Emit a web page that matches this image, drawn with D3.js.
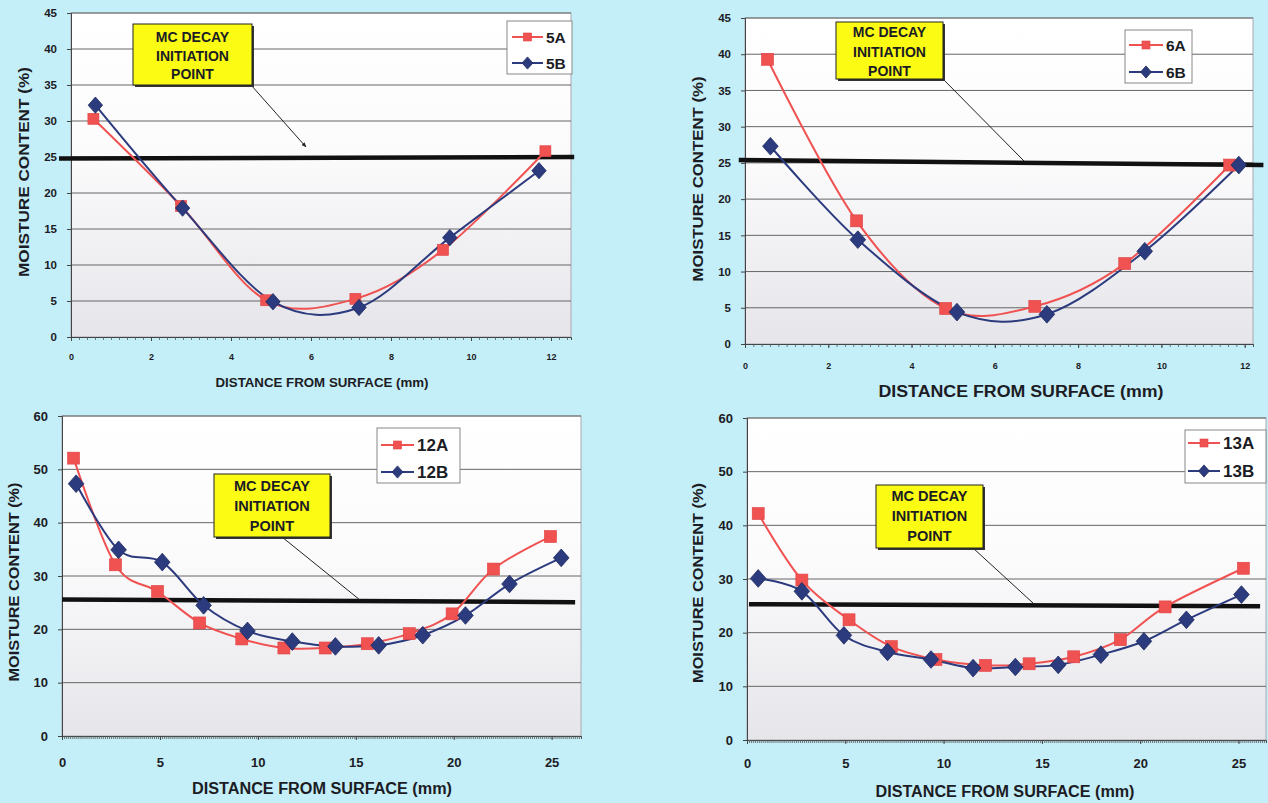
<!DOCTYPE html>
<html>
<head>
<meta charset="utf-8">
<script src="https://cdn.jsdelivr.net/npm/d3@7"></script>
<style>
  html, body { margin: 0; padding: 0; background: #c4eef8; }
  svg { display: block; }
  text { font-family: "Liberation Sans", Arial, sans-serif; font-weight: bold; fill: #1c1c24; }
</style>
</head>
<body>
<svg id="chart" width="1268" height="803"></svg>
<script>
// ---------------- DATA ----------------
const xTicks12 = [0, 2, 4, 6, 8, 10, 12];
const xTicks25 = [0, 5, 10, 15, 20, 25];
const yTicks45 = [0, 5, 10, 15, 20, 25, 30, 35, 40, 45];
const yTicks60 = [0, 10, 20, 30, 40, 50, 60];

const s5A_x = [0.56, 2.75, 4.88, 7.11, 9.30, 11.86];
const s5A_y = [30.3, 18.2, 5.1, 5.3, 12.1, 25.8];
const s5B_x = [0.61, 2.79, 5.05, 7.20, 9.47, 11.70];
const s5B_y = [32.2, 17.9, 4.9, 4.1, 13.8, 23.1];

const s6A_x = [0.54, 2.68, 4.82, 6.96, 9.12, 11.64];
const s6A_y = [39.3, 17.0, 4.9, 5.2, 11.1, 24.7];
const s6B_x = [0.61, 2.71, 5.09, 7.25, 9.60, 11.86];
const s6B_y = [27.3, 14.4, 4.4, 4.1, 12.8, 24.7];

const s12A_x = [0.59, 2.73, 4.88, 7.03, 9.18, 11.33, 13.44, 15.59, 17.73, 19.92, 22.03, 24.94];
const s12A_y = [52.1, 32.1, 27.1, 21.2, 18.2, 16.5, 16.5, 17.3, 19.2, 22.9, 31.3, 37.4];
const s12B_x = [0.72, 2.89, 5.12, 7.23, 9.47, 11.76, 13.96, 16.17, 18.42, 20.60, 22.85, 25.49];
const s12B_y = [47.3, 34.9, 32.6, 24.5, 19.7, 17.7, 16.8, 17.0, 18.9, 22.6, 28.5, 33.4];

const s13A_x = [0.57, 2.79, 5.19, 7.34, 9.61, 12.13, 14.35, 16.62, 18.99, 21.27, 25.25];
const s13A_y = [42.2, 29.8, 22.4, 17.4, 15.0, 13.9, 14.2, 15.5, 18.7, 24.8, 32.0];
const s13B_x = [0.57, 2.79, 4.93, 7.15, 9.36, 11.50, 13.65, 15.83, 18.00, 20.19, 22.35, 25.15];
const s13B_y = [30.1, 27.7, 19.5, 16.4, 15.0, 13.4, 13.6, 14.0, 15.9, 18.4, 22.4, 27.1];

// decay-initiation reference line (distance, moisture) end points
const decay5_x = [-0.3, 12.58];  const decay5_y = [24.8, 25.0];
const decay6_x = [-0.15, 12.45]; const decay6_y = [25.4, 24.7];
const decay12_x = [0.0, 26.2];   const decay12_y = [25.6, 25.1];
const decay13_x = [0.1, 26.1];   const decay13_y = [25.3, 24.9];

const seriesNames5 = ["5A", "5B"];
const seriesNames6 = ["6A", "6B"];
const seriesNames12 = ["12A", "12B"];
const seriesNames13 = ["13A", "13B"];

const yTitle = "MOISTURE CONTENT (%)";
const xTitle = "DISTANCE FROM SURFACE (mm)";
const noteLines = ["MC DECAY", "INITIATION", "POINT"];

// ---------------- STYLE / LAYOUT ----------------
const RED = "#f05252", BLUE = "#2c3b7e";
const zip = (xs, ys) => xs.map((v, i) => [v, ys[i]]);

const panels = [
  { id: "p1", left: 71, right: 571, top: 13, bottom: 337, xMax: 12.5, yMax: 45,
    xTicks: xTicks12, yTicks: yTicks45, minor: 0.2, xTickFont: 9, yTickFont: 11.5, xTickY: 360,
    A: zip(s5A_x, s5A_y), B: zip(s5B_x, s5B_y), names: seriesNames5,
    decay: zip(decay5_x, decay5_y),
    box: [133, 24, 252, 85], boxFont: 14, boxLines: [42, 60.5, 79], leader: [251, 85, 306, 147], arrow: true,
    legend: [507, 21, 572, 74], legLineY: [37, 63], legX: [512, 543], legTextX: 546, legFont: 15.5,
    yTitleX: 24, yTitleY: 172, yTitleLen: 210, yTitleFont: 14.5,
    xTitleX: 322, xTitleY: 387, xTitleLen: 213, xTitleFont: 12.5, mk: 11 },
  { id: "p2", left: 745, right: 1253, top: 18, bottom: 344, xMax: 12.2, yMax: 45,
    xTicks: xTicks12, yTicks: yTicks45, minor: 0.2, xTickFont: 9, yTickFont: 11.5, xTickY: 369,
    A: zip(s6A_x, s6A_y), B: zip(s6B_x, s6B_y), names: seriesNames6,
    decay: zip(decay6_x, decay6_y),
    box: [836, 22, 943, 79], boxFont: 14, boxLines: [37, 56.5, 76], leader: [943, 79, 1024, 161], arrow: false,
    legend: [1125, 30, 1192, 83], legLineY: [45, 72], legX: [1129, 1163], legTextX: 1166, legFont: 15.5,
    yTitleX: 698, yTitleY: 179, yTitleLen: 205, yTitleFont: 14.5,
    xTitleX: 1021, xTitleY: 397, xTitleLen: 285, xTitleFont: 16, mk: 12 },
  { id: "p3", left: 62, right: 581, top: 416, bottom: 736, xMax: 26.5, yMax: 60,
    xTicks: xTicks25, yTicks: yTicks60, minor: 0.1, xTickFont: 13, yTickFont: 13, xTickY: 767,
    A: zip(s12A_x, s12A_y), B: zip(s12B_x, s12B_y), names: seriesNames12,
    decay: zip(decay12_x, decay12_y),
    box: [214, 474, 330, 537], boxFont: 14.5, boxLines: [491, 511, 531], leader: [282, 537, 360, 600], arrow: false,
    legend: [377, 428, 460, 483], legLineY: [445, 472], legX: [381, 414], legTextX: 417, legFont: 17,
    yTitleX: 14, yTitleY: 582, yTitleLen: 199, yTitleFont: 14.5,
    xTitleX: 322, xTitleY: 794, xTitleLen: 260, xTitleFont: 16, mk: 12 },
  { id: "p4", left: 747, right: 1266, top: 418, bottom: 740, xMax: 26.4, yMax: 60,
    xTicks: xTicks25, yTicks: yTicks60, minor: 0.1, xTickFont: 13, yTickFont: 13, xTickY: 768,
    A: zip(s13A_x, s13A_y), B: zip(s13B_x, s13B_y), names: seriesNames13,
    decay: zip(decay13_x, decay13_y),
    box: [876, 485, 983, 548], boxFont: 14.5, boxLines: [501, 521, 541], leader: [973, 548, 1033, 603], arrow: false,
    legend: [1185, 430, 1266, 483], legLineY: [443, 471], legX: [1188, 1220], legTextX: 1223, legFont: 17,
    yTitleX: 698, yTitleY: 583, yTitleLen: 200, yTitleFont: 14.5,
    xTitleX: 1005, xTitleY: 797, xTitleLen: 259, xTitleFont: 16, mk: 12 }
];

const svg = d3.select("#chart");
const defs = svg.append("defs");
const grad = defs.append("linearGradient").attr("id", "plotbg").attr("x1", 0).attr("x2", 0).attr("y1", 0).attr("y2", 1);
grad.append("stop").attr("offset", "0%").attr("stop-color", "#ffffff");
grad.append("stop").attr("offset", "45%").attr("stop-color", "#fbfbfc");
grad.append("stop").attr("offset", "100%").attr("stop-color", "#e5e5ea");
defs.append("marker").attr("id", "arr").attr("viewBox", "0 0 10 10").attr("refX", 9).attr("refY", 5)
  .attr("markerWidth", 5).attr("markerHeight", 5).attr("orient", "auto")
  .append("path").attr("d", "M0,1 L10,5 L0,9 Z").attr("fill", "#222");

svg.append("rect").attr("width", 1268).attr("height", 803).attr("fill", "#c4eef8");

function squareMarker(g, cx, cy, s) {
  g.append("rect").attr("x", cx - s / 2).attr("y", cy - s / 2).attr("width", s).attr("height", s)
    .attr("fill", RED).attr("stroke", "#e04040").attr("stroke-width", 0.6);
}
function diamondMarker(g, cx, cy, s) {
  const w = s * 0.6, h = s * 0.68;
  g.append("path").attr("d", `M${cx},${cy - h} L${cx + w},${cy} L${cx},${cy + h} L${cx - w},${cy} Z`)
    .attr("fill", BLUE).attr("stroke", "#1e2a60").attr("stroke-width", 0.8);
}

panels.forEach(p => {
  const g = svg.append("g").attr("id", p.id);
  const x = d3.scaleLinear().domain([0, p.xMax]).range([p.left, p.right]);
  const y = d3.scaleLinear().domain([0, p.yMax]).range([p.bottom, p.top]);

  // plot area
  g.append("rect").attr("x", p.left).attr("y", p.top).attr("width", p.right - p.left).attr("height", p.bottom - p.top)
    .attr("fill", "url(#plotbg)").attr("stroke", "#a8a8b0").attr("stroke-width", 1);

  // gridlines
  g.append("g").selectAll("line").data(p.yTicks.filter(v => v > 0)).join("line")
    .attr("x1", p.left).attr("x2", p.right).attr("y1", d => y(d)).attr("y2", d => y(d))
    .attr("stroke", "#666").attr("stroke-width", 1);

  // y axis
  const ya = g.append("g").attr("transform", `translate(${p.left},0)`)
    .call(d3.axisLeft(y).tickValues(p.yTicks).tickSize(4).tickPadding(10).tickFormat(d3.format("d")));
  ya.select(".domain").attr("stroke", "#444");
  ya.selectAll(".tick line").attr("stroke", "#444");
  ya.selectAll(".tick text").attr("font-size", p.yTickFont).attr("font-family", "Liberation Sans, Arial, sans-serif")
    .attr("font-weight", "bold").attr("fill", "#1c1c24");

  // x axis minor ticks
  const minorVals = d3.range(0, p.xMax + 1e-9, p.minor).map(v => +v.toFixed(3));
  const xm = g.append("g").attr("transform", `translate(0,${p.bottom})`)
    .call(d3.axisBottom(x).tickValues(minorVals).tickSize(3).tickFormat(""));
  xm.select(".domain").attr("stroke", "#444");
  xm.selectAll(".tick line").attr("stroke", "#555").attr("stroke-width", 0.8);
  // x axis labels
  const xa = g.append("g").attr("transform", `translate(0,${p.bottom})`)
    .call(d3.axisBottom(x).tickValues(p.xTicks).tickSize(4).tickPadding(p.xTickY - p.bottom - 4 - p.xTickFont * 0.71).tickFormat(d3.format("d")));
  xa.select(".domain").remove();
  xa.selectAll(".tick line").attr("stroke", "#444");
  xa.selectAll(".tick text").attr("font-size", p.xTickFont).attr("font-family", "Liberation Sans, Arial, sans-serif")
    .attr("font-weight", "bold").attr("fill", "#1c1c24");

  // decay reference line
  g.append("path").datum(p.decay)
    .attr("d", d3.line().x(d => x(d[0])).y(d => y(d[1])))
    .attr("stroke", "#111").attr("stroke-width", 4.5).attr("fill", "none");

  // series
  const lineGen = d3.line().x(d => x(d[0])).y(d => y(d[1])).curve(d3.curveCatmullRom.alpha(0));
  g.append("path").datum(p.A).attr("d", lineGen).attr("fill", "none").attr("stroke", RED).attr("stroke-width", 2);
  g.append("path").datum(p.B).attr("d", lineGen).attr("fill", "none").attr("stroke", BLUE).attr("stroke-width", 2);
  p.A.forEach(d => squareMarker(g, x(d[0]), y(d[1]), p.mk));
  p.B.forEach(d => diamondMarker(g, x(d[0]), y(d[1]), p.mk + 1));

  // annotation box + leader
  const [bx1, by1, bx2, by2] = p.box;
  const [lx1, ly1, lx2, ly2] = p.leader;
  const ld = g.append("line").attr("x1", lx1).attr("y1", ly1).attr("x2", lx2).attr("y2", ly2)
    .attr("stroke", "#222").attr("stroke-width", 1);
  if (p.arrow) ld.attr("marker-end", "url(#arr)");
  g.append("rect").attr("x", bx1 + 2).attr("y", by1 + 2).attr("width", bx2 - bx1).attr("height", by2 - by1).attr("fill", "#333");
  g.append("rect").attr("x", bx1).attr("y", by1).attr("width", bx2 - bx1).attr("height", by2 - by1)
    .attr("fill", "#fbfb14").attr("stroke", "#222").attr("stroke-width", 1);
  noteLines.forEach((t, i) => {
    g.append("text").attr("x", (bx1 + bx2) / 2).attr("y", p.boxLines[i]).attr("text-anchor", "middle")
      .attr("font-size", p.boxFont).text(t);
  });

  // legend
  const [gx1, gy1, gx2, gy2] = p.legend;
  g.append("rect").attr("x", gx1).attr("y", gy1).attr("width", gx2 - gx1).attr("height", gy2 - gy1)
    .attr("fill", "#ffffff").attr("stroke", "#888").attr("stroke-width", 1);
  [0, 1].forEach(i => {
    const ly = p.legLineY[i];
    g.append("line").attr("x1", p.legX[0]).attr("x2", p.legX[1]).attr("y1", ly).attr("y2", ly)
      .attr("stroke", i === 0 ? RED : BLUE).attr("stroke-width", 2);
    const cx = (p.legX[0] + p.legX[1]) / 2;
    if (i === 0) squareMarker(g, cx, ly, 8); else diamondMarker(g, cx, ly, 9);
    g.append("text").attr("x", p.legTextX).attr("y", ly + p.legFont * 0.36).attr("font-size", p.legFont).text(p.names[i]);
  });

  // axis titles
  g.append("text").attr("transform", `translate(${p.yTitleX + p.yTitleFont * 0.36},${p.yTitleY}) rotate(-90)`)
    .attr("text-anchor", "middle").attr("font-size", p.yTitleFont)
    .attr("textLength", p.yTitleLen).attr("lengthAdjust", "spacingAndGlyphs").text(yTitle);
  g.append("text").attr("x", p.xTitleX).attr("y", p.xTitleY).attr("text-anchor", "middle")
    .attr("font-size", p.xTitleFont).attr("textLength", p.xTitleLen).attr("lengthAdjust", "spacingAndGlyphs").text(xTitle);
});
</script>
</body>
</html>
